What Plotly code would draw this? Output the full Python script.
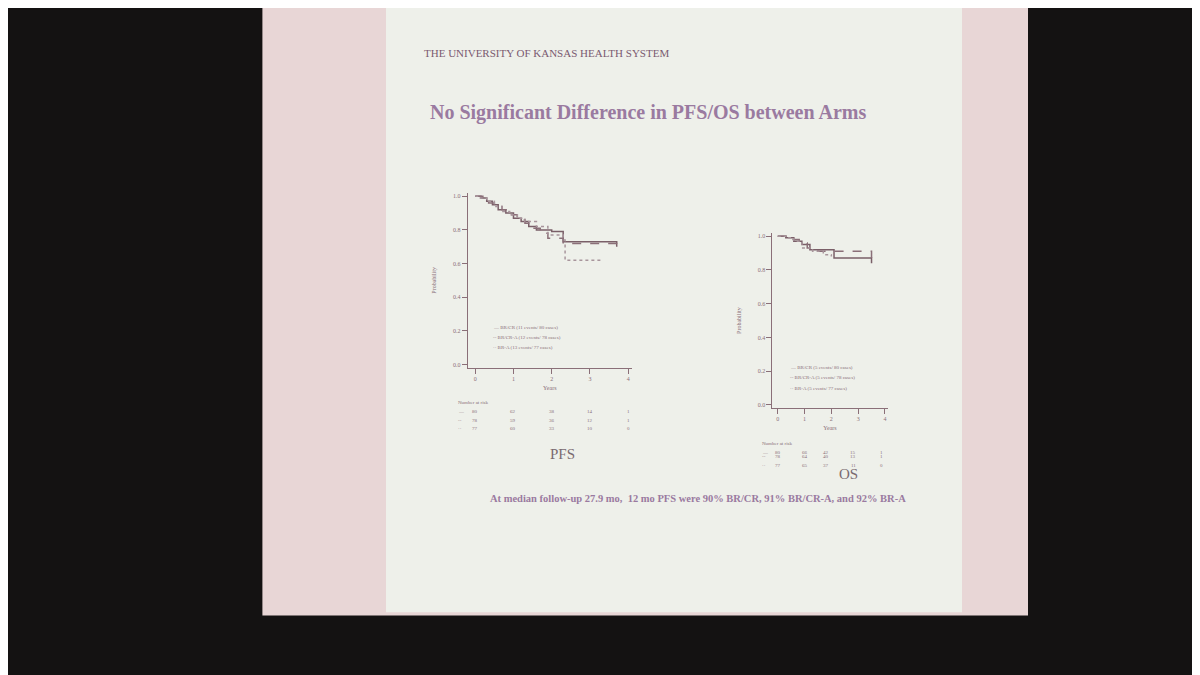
import plotly.graph_objects as go

# PFS curves (years, survival probability)
pfs_years_crc = [0, 0.15, 0.3, 0.45, 0.6, 0.8, 1.0, 1.2, 1.4, 1.6, 2.0, 2.3, 2.3, 3.7]
pfs_surv_crc = [1.0, 0.99, 0.97, 0.95, 0.92, 0.90, 0.87, 0.85, 0.82, 0.80, 0.79, 0.78, 0.73, 0.70]
pfs_years_cra = [0, 0.2, 0.35, 0.5, 0.7, 0.9, 1.1, 1.3, 1.5, 1.7, 1.9, 2.3, 3.7]
pfs_surv_cra = [1.0, 0.98, 0.96, 0.94, 0.92, 0.89, 0.86, 0.84, 0.81, 0.78, 0.75, 0.72, 0.69]
pfs_years_bra = [0, 0.1, 0.3, 0.5, 0.7, 0.9, 1.1, 1.3, 1.6, 1.9, 2.3, 2.35, 3.3]
pfs_surv_bra = [1.0, 0.99, 0.97, 0.94, 0.91, 0.89, 0.87, 0.85, 0.82, 0.77, 0.74, 0.62, 0.61]

# OS curves
os_years_crc = [0, 0.3, 0.6, 0.9, 1.2, 2.1, 2.1, 3.5]
os_surv_crc = [1.0, 0.99, 0.97, 0.95, 0.92, 0.90, 0.87, 0.84]
os_years_cra = [0, 0.4, 0.8, 1.1, 1.5, 3.5]
os_surv_cra = [1.0, 0.98, 0.96, 0.93, 0.91, 0.87]
os_years_bra = [0, 0.3, 0.6, 0.9, 1.3, 1.7, 2.0]
os_surv_bra = [1.0, 0.99, 0.97, 0.93, 0.91, 0.89, 0.88]

pfs_names = ["BR/CR (11 events/ 80 cases)", "BR/CR-A (12 events/ 78 cases)", "BR-A (13 events/ 77 cases)"]
os_names = ["BR/CR (5 events/ 80 cases)", "BR/CR-A (5 events/ 78 cases)", "BR-A (5 events/ 77 cases)"]

# numbers at risk
risk_pfs = [[80, 62, 38, 14, 1], [78, 59, 36, 12, 1], [77, 60, 33, 10, 0]]
risk_os = [[80, 66, 42, 15, 1], [78, 64, 40, 13, 1], [77, 65, 37, 11, 0]]

line_col = "#8a6f78"
line_cols = ["#7a5f68", "#8a6f78", "#a8959c"]
dashes = ["solid", "dash", "dot"]

pfs_dom_x, pfs_dom_y = [0.383, 0.52], [0.467, 0.726]
os_dom_x, os_dom_y = [0.637, 0.733], [0.407, 0.667]
x_rng = [-0.2, 4.1]

fig = go.Figure()

def add_curves(xs, ys, names, xa, ya):
    for x, y, n, d, c in zip(xs, ys, names, dashes, line_cols):
        fig.add_trace(go.Scatter(x=x, y=y, mode="lines", line=dict(color=c, width=1.5, dash=d, shape="hv"),
                                 name=n, xaxis=xa, yaxis=ya, showlegend=False))

add_curves([pfs_years_crc, pfs_years_cra, pfs_years_bra], [pfs_surv_crc, pfs_surv_cra, pfs_surv_bra],
           pfs_names, "x", "y")
add_curves([os_years_crc, os_years_cra, os_years_bra], [os_surv_crc, os_surv_cra, os_surv_bra],
           os_names, "x2", "y2")

axis_style = dict(showgrid=False, zeroline=False, showline=True, linecolor=line_col, ticks="outside",
                  tickcolor=line_col, tickfont=dict(size=6, color=line_col), title_font=dict(size=6, color=line_col))

fig.update_layout(
    width=1200, height=675, margin=dict(l=0, r=0, t=0, b=0),
    paper_bgcolor="#141212", plot_bgcolor="rgba(0,0,0,0)",
    xaxis=dict(domain=pfs_dom_x, anchor="y", range=x_rng, tickvals=[0, 1, 2, 3, 4], title_text="Years",
               title_standoff=4, **axis_style),
    yaxis=dict(domain=pfs_dom_y, anchor="x", range=[-0.02, 1.02], tickvals=[0, 0.2, 0.4, 0.6, 0.8, 1.0],
               tickformat=".1f", title_text="Probability", **axis_style),
    xaxis2=dict(domain=os_dom_x, anchor="y2", range=x_rng, tickvals=[0, 1, 2, 3, 4], title_text="Years",
                title_standoff=4, **axis_style),
    yaxis2=dict(domain=os_dom_y, anchor="x2", range=[-0.02, 1.02], tickvals=[0, 0.2, 0.4, 0.6, 0.8, 1.0],
                tickformat=".1f", title_text="Probability", **axis_style),
    font=dict(family="Liberation Serif"),
)

# slide background
fig.add_shape(type="rect", xref="paper", yref="paper", x0=0.212, x1=0.85, y0=0.10, y1=1.0,
              fillcolor="#e8d6d6", line_width=0, layer="below")
fig.add_shape(type="rect", xref="paper", yref="paper", x0=0.315, x1=0.795, y0=0.105, y1=1.0,
              fillcolor="#eef0ea", line_width=0, layer="below")

ann = [
    dict(x=0.345, y=0.945, text="THE UNIVERSITY OF KANSAS HEALTH SYSTEM", size=11, color="#7a5a70", xanchor="left"),
    dict(x=0.35, y=0.865, text="<b>No Significant Difference in PFS/OS between Arms</b>", size=20, color="#9a7aa0", xanchor="left"),
    dict(x=0.462, y=0.325, text="PFS", size=15, color="#7a6a70", xanchor="center"),
    dict(x=0.70, y=0.295, text="OS", size=15, color="#7a6a70", xanchor="center"),
    dict(x=0.40, y=0.262, text="<b>At median follow-up 27.9 mo,  12 mo PFS were 90% BR/CR, 91% BR/CR-A, and 92% BR-A</b>",
         size=10.5, color="#9a7aa0", xanchor="left"),
]
for a in ann:
    fig.add_annotation(x=a["x"], y=a["y"], xref="paper", yref="paper", text=a["text"], showarrow=False,
                       xanchor=a["xanchor"], font=dict(size=a["size"], color=a["color"]))

# in-plot legends
for names, xa, ya in [(pfs_names, "x", "y"), (os_names, "x2", "y2")]:
    for i, n in enumerate(names):
        fig.add_annotation(x=0.4, y=0.22 - i * 0.06, xref=xa, yref=ya,
                           text=("— " if i == 0 else "-- " if i == 1 else "·· ") + n,
                           showarrow=False, xanchor="left", font=dict(size=5, color=line_col))

# risk table placed in paper coordinates below each axis
for risk, dx, dy in [(risk_pfs, pfs_dom_x, pfs_dom_y), (risk_os, os_dom_x, os_dom_y)]:
    def px(t):
        return dx[0] + (t - x_rng[0]) / (x_rng[1] - x_rng[0]) * (dx[1] - dx[0])
    h = dy[1] - dy[0]
    fig.add_annotation(x=dx[0] - 0.01, y=dy[0] - 0.2 * h, xref="paper", yref="paper", text="Number at risk",
                       showarrow=False, xanchor="left", font=dict(size=5, color=line_col))
    for r, row in enumerate(risk):
        yy = dy[0] - (0.25 + r * 0.05) * h
        fig.add_annotation(x=dx[0] - 0.01, y=yy, xref="paper", yref="paper",
                           text=["—", "--", "··"][r], showarrow=False, xanchor="left", font=dict(size=5, color=line_col))
        for t, v in enumerate(row):
            fig.add_annotation(x=px(t), y=yy, xref="paper", yref="paper", text=str(v),
                               showarrow=False, font=dict(size=5, color=line_col))

fig.write_html("out.html")
